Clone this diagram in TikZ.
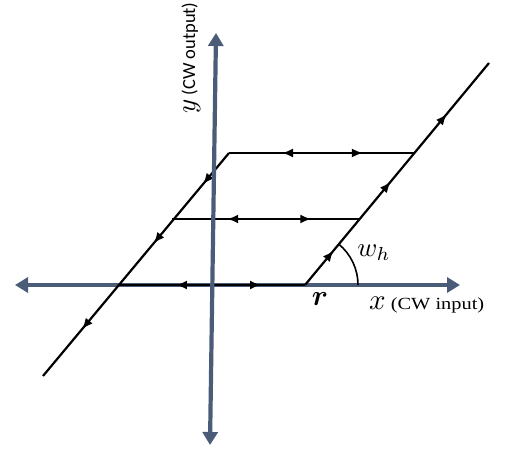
\documentclass[tikz,border=0pt]{standalone}
\usepackage{fontspec}
\usepackage{bm}
\newfontfamily\cwserif{Liberation Serif}
\newfontfamily\cwsans{Carlito}
\usetikzlibrary{arrows.meta,decorations.markings}
\definecolor{axiscol}{RGB}{75,92,120}
\tikzset{
  tipA/.tip={Latex[length=11pt,width=9pt]},
  tipB/.tip={Triangle[length=13pt,width=15pt]},
  axisline/.style={draw=axiscol, line width=4.2pt, {tipB}-{tipB}},
  edgeline/.style={draw=black, line width=2.2pt, postaction={decorate}},
}
\begin{document}
\begin{tikzpicture}[x=1pt,y=1pt]
\useasboundingbox (0,0) rectangle (505,450);
% points
\coordinate (A) at (43,74);
\coordinate (B) at (118,165);
\coordinate (C) at (172,231);
\coordinate (D) at (229,297);
\coordinate (E) at (415,297);
\coordinate (F) at (359,231);
\coordinate (R) at (305,165);
\coordinate (G) at (489,387);
\coordinate (hl) at (15,165);
\coordinate (hr) at (460,165);
\coordinate (vt) at (216,417);
\coordinate (vb) at (210,5);
% horizontal axis
\draw[axisline] (hl) -- (hr);
% edges
\draw[edgeline, decoration={markings,
   mark=at position 0.14 with {\arrow{tipA}},
   mark=at position 0.405 with {\arrow{tipA}},
   mark=at position 0.79 with {\arrow{tipA}}}] (D) -- (A);
\draw[edgeline, decoration={markings,
   mark=at position 0.155 with {\arrow{tipA}},
   mark=at position 0.465 with {\arrow{tipA}},
   mark=at position 0.77 with {\arrow{tipA}}}] (R) -- (G);
\draw[edgeline, decoration={markings,
   mark=at position 0.285 with {\arrowreversed{tipA}},
   mark=at position 0.72 with {\arrow{tipA}}}] (D) -- (E);
\draw[edgeline, decoration={markings,
   mark=at position 0.295 with {\arrowreversed{tipA}},
   mark=at position 0.745 with {\arrow{tipA}}}] (C) -- (F);
\draw[edgeline, decoration={markings,
   mark=at position 0.31 with {\arrowreversed{tipA}},
   mark=at position 0.765 with {\arrow{tipA}}}] (B) -- (R);
% angle arc
\draw[line width=1.6pt] ([shift={(53,0)}]R) arc[start angle=0,end angle=50.3,radius=53];
% vertical axis
\draw[axisline] (vb) -- (vt);
% labels
\node (rlab) at (320,151) {\scalebox{2.9}{$\bm{r}$}};
\node[anchor=base west, inner sep=0pt] (xlab) at (369,141) {\scalebox{2.9}{$x$}\hspace{5pt}{\cwserif\fontsize{17}{17}\selectfont\scalebox{1.2}[1]{(CW input)}}};
\node (wlab) at (374,197) {\scalebox{2.7}{$w_h$}};
\node[rotate=90] (ylab) at (191,392) {\scalebox{2.7}{$y$}\hspace{4pt}{\cwsans\fontsize{18.5}{18.5}\selectfont(CW output)}};
\end{tikzpicture}
\end{document}
